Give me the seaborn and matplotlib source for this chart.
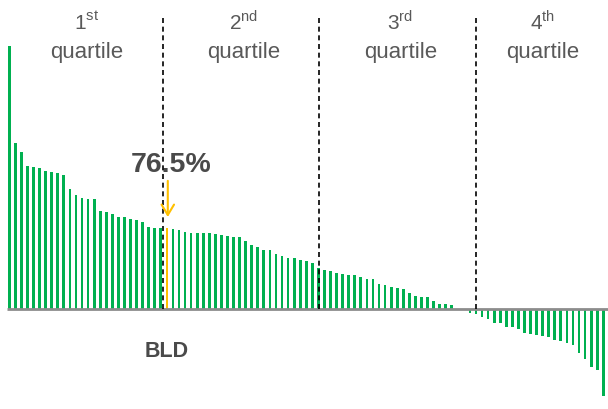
import numpy as np
import pandas as pd
import matplotlib
matplotlib.use("Agg")
import matplotlib.pyplot as plt
import seaborn as sns

# Growth by company, ranked from highest to lowest (%)
growth = [
    249.6, 157.7, 149.1, 136.0, 134.6, 134.0, 131.0, 129.9, 129.2, 127.3,
    113.8, 107.8, 105.0, 104.3, 104.0, 92.6, 92.0, 90.1, 87.5, 87.2,
    85.5, 84.2, 82.2, 77.5, 76.8, 76.6, 76.5, 75.6, 74.7, 73.0,
    72.0, 72.0, 71.9, 71.8, 70.8, 70.4, 69.0, 68.3, 68.0, 64.2,
    60.7, 59.1, 56.2, 55.9, 51.9, 50.2, 48.6, 48.1, 46.5, 45.5,
    43.3, 38.9, 37.0, 35.8, 33.8, 32.9, 32.7, 32.2, 30.3, 28.7,
    28.6, 24.0, 22.8, 20.6, 19.7, 19.1, 15.2, 12.6, 11.7, 11.6,
    7.6, 4.7, 4.5, 3.5, 0.0, 0.0, -3.5, -4.5, -7.3, -9.2,
    -13.3, -13.6, -16.8, -17.0, -19.3, -22.4, -24.0, -24.6, -25.9, -26.2,
    -29.1, -30.6, -32.5, -34.1, -42.0, -47.7, -54.7, -57.8, -82.5,
]
highlight_rank = 27
highlight_name = "BLD"
quartile_numbers = ["1", "2", "3", "4"]
quartile_suffixes = ["st", "nd", "rd", "th"]

GREEN = "#00B050"
GOLD = "#FFC000"
TEXT = "#595959"
DARK = "#4A4A4A"

sns.set_style("white")
plt.rcParams["font.family"] = ["Liberation Sans", "DejaVu Sans"]
plt.rcParams["mathtext.fontset"] = "custom"
plt.rcParams["mathtext.rm"] = "Liberation Sans"

df = pd.DataFrame({"rank": np.arange(1, len(growth) + 1), "growth": growth})
df["group"] = np.where(df["rank"] == highlight_rank, highlight_name, "Peers")

fig = plt.figure(figsize=(6.08, 4.10), dpi=100)
ax = fig.add_axes([0, 0, 1, 1])

sns.barplot(
    data=df, x="rank", y="growth", hue="group",
    palette={"Peers": GREEN, highlight_name: GOLD},
    dodge=False, width=0.45, linewidth=0, saturation=1,
    legend=False, ax=ax,
)

ax.set_xlim(-1.534, 98.78)
ax.set_ylim(-94.8, 293.9)
ax.set_axis_off()

# zero line
ax.hlines(0, -0.38, 100, color="#8C8C8C", lw=2, zorder=4)

# quartile dividers and headings
dividers = [25.3, 51.15, 77.0]
ax.vlines(dividers, 0, 277.5, colors="black", linestyles=(0, (3, 2.2)), lw=1.2, zorder=5)
label_x = [12.8, 38.6, 64.5, 88.0]
for xc, num, suf in zip(label_x, quartile_numbers, quartile_suffixes):
    ax.text(xc, 265.5, num + r"$^{\mathrm{" + suf + "}}$", ha="center", va="baseline",
            fontsize=15, color=TEXT)
    ax.text(xc, 239, "quartile", ha="center", va="baseline", fontsize=16, color=TEXT)

# highlighted company
hi = highlight_rank - 1
hv = growth[hi]
ax.annotate("", xy=(hi + 0.15, hv + 10.7), xytext=(hi + 0.15, hv + 45),
            arrowprops=dict(arrowstyle="->,head_length=0.75,head_width=0.45",
                            color=GOLD, lw=1.5, shrinkA=0, shrinkB=0), zorder=6)
ax.text(hi + 0.75, hv + 61, f"{hv:.1f}%", ha="center", va="center",
        fontsize=20.5, fontweight="bold", color=DARK)
ax.text(hi, -39, highlight_name, ha="center", va="center",
        fontsize=15.5, fontweight="bold", color=DARK)

fig.savefig("out.png", dpi=100)
